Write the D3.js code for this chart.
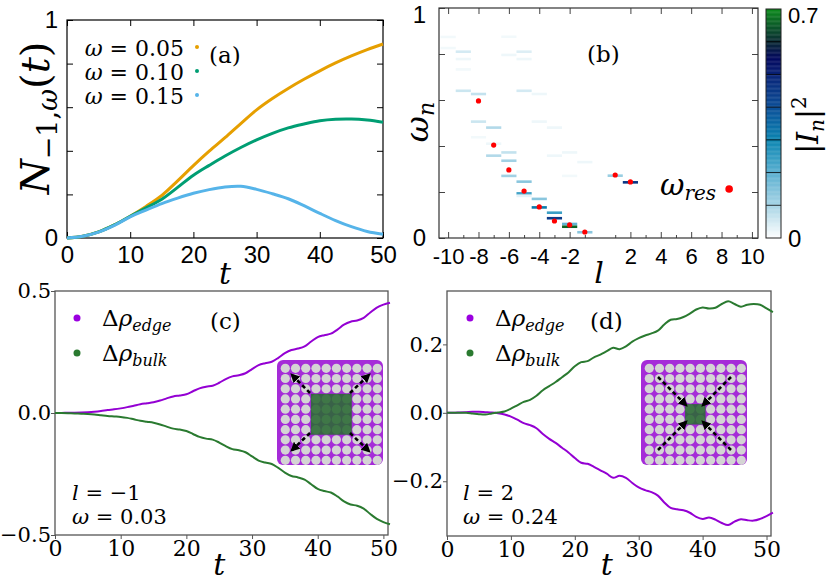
<!DOCTYPE html>
<html>
<head>
<meta charset="utf-8">
<script src="https://cdn.jsdelivr.net/npm/d3@7"></script>
<style>
body{margin:0;background:#fff}
.sf{font-family:"DejaVu Serif",serif}
.ss{font-family:"Liberation Sans",Arial,sans-serif}
</style>
</head>
<body>
<script>
// ---------- data ----------
// panel (a)
var tA = [0,2.5,5,7.5,10,12.5,15,17.5,20,22.5,25,27.5,30,32.5,35,37.5,40,42.5,45,47.5,50];
var nW005 = [0,0.008,0.028,0.06,0.10,0.145,0.195,0.262,0.332,0.398,0.46,0.525,0.588,0.64,0.686,0.728,0.767,0.803,0.835,0.864,0.89];
var nW010 = [0,0.008,0.028,0.06,0.10,0.138,0.178,0.232,0.288,0.333,0.376,0.415,0.45,0.48,0.505,0.523,0.538,0.545,0.546,0.541,0.531];
var nW015 = [0,0.008,0.027,0.058,0.097,0.128,0.158,0.183,0.205,0.222,0.234,0.237,0.223,0.203,0.18,0.148,0.113,0.08,0.052,0.03,0.017];
var legendA = ["0.05","0.10","0.15"];
var colorsA = ["#E69F00","#009E73","#56B4E9"];
var tTicks = [0,10,20,30,40,50];

// panel (b): horizontal bands (l, omega_n, |I_n|^2)
var bandL = [-10,-10,-9,-9,-9,-9,-8,-8,-8,-7,-7,-7,-6,-6,-6,-6,-6,-5,-5,-5,-5,-5,-5,-4,-4,-4,-4,-3,-3,-3,-3,-2,-2,-2,-2,-1,-1,1,2];
var bandW = [0.874,0.826,0.81,0.778,0.733,0.64,0.626,0.506,0.438,0.48,0.41,0.358,0.875,0.796,0.372,0.336,0.27,0.81,0.778,0.64,0.245,0.194,0.183,0.626,0.506,0.17,0.133,0.48,0.358,0.11,0.086,0.372,0.27,0.061,0.049,0.33,0.025,0.271,0.242];
var bandI = [0.015,0.015,0.05,0.02,0.015,0.06,0.07,0.06,0.015,0.09,0.02,0.09,0.015,0.02,0.07,0.11,0.11,0.04,0.02,0.05,0.14,0.23,0.03,0.02,0.02,0.14,0.32,0.02,0.02,0.24,0.45,0.02,0.015,0.19,0.66,0.02,0.14,0.12,0.46];
var resL = [-8,-7,-6,-5,-4,-3,-2,-1,1,2];
var resW = [0.596,0.404,0.296,0.204,0.135,0.074,0.057,0.026,0.274,0.244];
var lTicks = [-10,-8,-6,-4,-2,2,4,6,8,10];
var cbStops = [0,0.1,0.2,0.3,0.4,0.5,0.55,0.6,0.7];
var cbColors = ["#ffffff","#a9d5e6","#5bb0d1","#0c86b2","#0b4f98","#0a2477","#03085e","#0b2a35","#0c8a1c"];

// panels (c) and (d)
var tCD = [0,1,2,3,4,5,6,7,8,9,10,11,12,13,14,15,16,17,18,19,20,21,22,23,24,25,26,27,28,29,30,31,32,33,34,35,36,37,38,39,40,41,42,43,44,45,46,47,48,49,50,51];
var edgeC = [0,0.0005,0.001,0.0015,0.002,0.003,0.005,0.008,0.012,0.015,0.019,0.024,0.030,0.036,0.040,0.044,0.051,0.060,0.068,0.072,0.077,0.089,0.101,0.108,0.112,0.124,0.139,0.150,0.155,0.163,0.180,0.196,0.204,0.210,0.226,0.245,0.258,0.264,0.273,0.293,0.311,0.319,0.325,0.342,0.362,0.374,0.379,0.390,0.412,0.432,0.444,0.452];
var bulkC = [0,-0.0005,-0.001,-0.002,-0.003,-0.004,-0.006,-0.009,-0.012,-0.014,-0.016,-0.020,-0.026,-0.032,-0.036,-0.040,-0.047,-0.056,-0.064,-0.068,-0.074,-0.086,-0.098,-0.105,-0.109,-0.121,-0.136,-0.148,-0.153,-0.161,-0.178,-0.195,-0.203,-0.209,-0.225,-0.244,-0.258,-0.264,-0.273,-0.292,-0.311,-0.320,-0.326,-0.342,-0.362,-0.375,-0.380,-0.392,-0.414,-0.434,-0.447,-0.456];
var edgeD = [0,0,0.001,0.002,0.003,0.003,0.002,0.001,-0.001,-0.005,-0.011,-0.020,-0.030,-0.036,-0.045,-0.062,-0.076,-0.088,-0.102,-0.116,-0.132,-0.146,-0.149,-0.158,-0.168,-0.178,-0.190,-0.184,-0.190,-0.205,-0.218,-0.226,-0.232,-0.242,-0.262,-0.278,-0.282,-0.285,-0.292,-0.304,-0.310,-0.306,-0.312,-0.322,-0.328,-0.318,-0.311,-0.314,-0.315,-0.310,-0.302,-0.292];
var bulkD = [0,0,0,0,-0.002,-0.004,-0.005,-0.002,0.001,0.004,0.012,0.022,0.032,0.038,0.050,0.066,0.078,0.090,0.104,0.118,0.136,0.148,0.151,0.162,0.170,0.180,0.190,0.186,0.194,0.208,0.218,0.226,0.232,0.240,0.258,0.272,0.274,0.280,0.290,0.302,0.308,0.305,0.307,0.318,0.326,0.318,0.310,0.316,0.318,0.316,0.305,0.294];
var yTicksC = [-0.5,0,0.5];
var yTicksD = [-0.2,0,0.2];

// ---------- setup ----------
var svg = d3.select("body").append("svg").attr("width",830).attr("height",582);

function styleAxis(g, cls, size, col){
  g.attr("font-family", null).attr("class", cls).attr("font-size", size);
  g.selectAll("text").attr("fill","#000");
  g.selectAll("line").attr("stroke", col);
  g.select(".domain").remove();
}

// ---------- panel (a) ----------
var xA = d3.scaleLinear().domain([0,50]).range([67,383]);
var yA = d3.scaleLinear().domain([0,1]).range([238,20]);
var gA = svg.append("g");
gA.append("g").attr("transform","translate(0,238)")
  .call(d3.axisBottom(xA).tickValues(tTicks).tickSize(-6).tickPadding(8))
  .call(styleAxis, "ss", 24, "#000");
gA.append("g").attr("transform","translate(0,20)")
  .call(d3.axisTop(xA).tickValues(tTicks).tickSize(-6).tickFormat(""))
  .call(styleAxis, "ss", 24, "#000");
gA.append("g").attr("transform","translate(67,0)")
  .call(d3.axisLeft(yA).tickValues([0,0.2,0.4,0.6,0.8,1]).tickSize(-6).tickPadding(9)
    .tickFormat(function(d){ return (d===0||d===1) ? d : ""; }))
  .call(styleAxis, "ss", 24, "#000");
gA.append("g").attr("transform","translate(383,0)")
  .call(d3.axisRight(yA).tickValues([0,0.2,0.4,0.6,0.8,1]).tickSize(-6).tickFormat(""))
  .call(styleAxis, "ss", 24, "#000");
gA.append("rect").attr("x",67).attr("y",20).attr("width",316).attr("height",218)
  .attr("fill","none").attr("stroke","#000").attr("stroke-width",1.2);

var lineA = d3.line().x(function(d){return xA(d[0]);}).y(function(d){return yA(d[1]);}).curve(d3.curveCatmullRom);
[nW005,nW010,nW015].forEach(function(s,i){
  gA.append("path").datum(tA.map(function(t,j){return [t,s[j]];}))
    .attr("d", lineA).attr("fill","none").attr("stroke",colorsA[i]).attr("stroke-width",3);
});
legendA.forEach(function(s,i){
  var yb = 56 + i*24;
  var t = gA.append("text").attr("class","sf").attr("x",184).attr("y",yb).attr("text-anchor","end")
    .attr("font-size",22);
  t.append("tspan").attr("font-style","italic").text("\u03c9");
  t.append("tspan").text(" = " + s);
  gA.append("circle").attr("cx",197).attr("cy",yb-9).attr("r",2).attr("fill",colorsA[i]);
});
gA.append("text").attr("class","sf").attr("x",209).attr("y",63).attr("font-size",23).text("(a)");
var ylA = gA.append("text").attr("class","sf").attr("transform","translate(49,118) rotate(-90)").attr("text-anchor","middle")
  .attr("font-size",40);
ylA.append("tspan").attr("font-style","italic").text("N");
ylA.append("tspan").attr("font-size",27).attr("dy",8).text("\u22121,");
ylA.append("tspan").attr("font-size",27).attr("font-style","italic").text("\u03c9");
ylA.append("tspan").attr("dy",-8).text("(");
ylA.append("tspan").attr("font-style","italic").text("t");
ylA.append("tspan").text(")");
gA.append("text").attr("class","sf").attr("x",xA(25)).attr("y",284).attr("text-anchor","middle")
  .attr("font-style","italic").attr("font-size",30).text("t");

// ---------- panel (b) ----------
var xB = d3.scaleLinear().domain([-10.6,10.4]).range([439,758]);
var yB = d3.scaleLinear().domain([0,1]).range([238,8]);
var cScale = d3.scaleLinear().domain(cbStops).range(cbColors).interpolate(d3.interpolateRgb).clamp(true);
var gB = svg.append("g");
gB.selectAll("rect.band").data(bandL).enter().append("rect").attr("class","band")
  .attr("x",function(d){return xB(d-0.5);})
  .attr("width",function(d){return xB(d+0.5)-xB(d-0.5);})
  .attr("y",function(d,i){return yB(bandW[i])-1.3;})
  .attr("height",2.6)
  .attr("fill",function(d,i){return cScale(bandI[i]);});
gB.selectAll("circle.res").data(resL).enter().append("circle").attr("class","res")
  .attr("cx",function(d){return xB(d);}).attr("cy",function(d,i){return yB(resW[i]);})
  .attr("r",2.6).attr("fill","#ff0000");
var minorL = d3.range(-9,10,2);
gB.append("g").attr("transform","translate(0,238)")
  .call(d3.axisBottom(xB).tickValues(minorL).tickSize(-3).tickFormat(""))
  .call(styleAxis, "ss", 22, "#444");
gB.append("g").attr("transform","translate(0,238)")
  .call(d3.axisBottom(xB).tickValues(lTicks).tickSize(-6).tickPadding(10).tickFormat(function(d){return d<0? "-"+(-d) : d;}))
  .call(styleAxis, "ss", 22, "#444");
gB.append("g").attr("transform","translate(0,8)")
  .call(d3.axisTop(xB).tickValues(lTicks).tickSize(-6).tickFormat(""))
  .call(styleAxis, "ss", 22, "#444");
gB.append("g").attr("transform","translate(439,0)")
  .call(d3.axisLeft(yB).tickValues([0,0.2,0.4,0.6,0.8,1]).tickSize(-6).tickPadding(13)
    .tickFormat(function(d){ return (d===0||d===1) ? d : ""; }))
  .call(styleAxis, "ss", 24, "#444");
gB.selectAll("text").filter(function(){ return this.textContent==="1"; }).attr("dy","0.62em");
gB.append("g").attr("transform","translate(758,0)")
  .call(d3.axisRight(yB).tickValues([0,0.2,0.4,0.6,0.8,1]).tickSize(-6).tickFormat(""))
  .call(styleAxis, "ss", 24, "#444");
gB.append("rect").attr("x",439).attr("y",8).attr("width",319).attr("height",230)
  .attr("fill","none").attr("stroke","#333").attr("stroke-width",1.2);
gB.append("text").attr("class","sf").attr("x",587).attr("y",62).attr("font-size",23).text("(b)");
gB.append("circle").attr("cx",xB(8.5)).attr("cy",yB(0.213)).attr("r",3.8).attr("fill","#ff0000");
var wr = gB.append("text").attr("class","sf").attr("x",660).attr("y",195).attr("font-style","italic").attr("font-size",30);
wr.append("tspan").text("\u03c9");
wr.append("tspan").attr("font-size",20).attr("dy",5).text("res");
var ylB = gB.append("text").attr("class","sf").attr("transform","translate(428,122) rotate(-90)").attr("text-anchor","middle")
  .attr("font-style","italic").attr("font-size",32);
ylB.append("tspan").text("\u03c9");
ylB.append("tspan").attr("font-size",22).attr("dy",6).text("n");
gB.append("text").attr("class","sf").attr("x",599).attr("y",283).attr("text-anchor","middle")
  .attr("font-style","italic").attr("font-size",30).text("l");

// colorbar
var yCB = d3.scaleLinear().domain([0,0.7]).range([238,9]);
var cbVals = d3.range(0,0.7,0.0025);
gB.selectAll("rect.cb").data(cbVals).enter().append("rect").attr("class","cb")
  .attr("x",766).attr("width",15)
  .attr("y",function(d){return yCB(d+0.0025);})
  .attr("height",function(d){return yCB(d)-yCB(d+0.0025)+0.4;})
  .attr("fill",function(d){return cScale(d+0.00125);});
gB.selectAll("line.cbl").data([0.1,0.2,0.3,0.4,0.5,0.6]).enter().append("line").attr("class","cbl")
  .attr("x1",766).attr("x2",781).attr("y1",function(d){return yCB(d);}).attr("y2",function(d){return yCB(d);})
  .attr("stroke","#000").attr("stroke-width",0.8);
gB.append("rect").attr("x",766).attr("y",9).attr("width",15).attr("height",229)
  .attr("fill","none").attr("stroke","#222").attr("stroke-width",1);
gB.append("text").attr("class","ss").attr("x",788).attr("y",23).attr("font-size",22).text("0.7");
gB.append("text").attr("class","ss").attr("x",788).attr("y",yCB(0)).attr("dy","0.36em").attr("font-size",24).text("0");
var cbl = gB.append("text").attr("class","sf").attr("transform","translate(818,125) rotate(-90)").attr("text-anchor","middle")
  .attr("font-size",30);
cbl.append("tspan").text("|");
cbl.append("tspan").attr("font-style","italic").text("I");
cbl.append("tspan").attr("font-style","italic").attr("font-size",20).attr("dy",6).text("n");
cbl.append("tspan").attr("dy",-6).text("|");
cbl.append("tspan").attr("font-size",20).attr("dy",-12).text("2");

// ---------- panels (c), (d) ----------
function drawPanel(opt){
  var g = svg.append("g");
  var x = d3.scaleLinear().domain([0,50.7]).range([opt.x0,opt.x1]);
  var y = d3.scaleLinear().domain(opt.ydom).range([opt.yb,291]);
  g.append("g").attr("transform","translate(0,"+opt.yb+")")
    .call(d3.axisBottom(x).tickValues(tTicks).tickSize(4).tickPadding(1))
    .call(styleAxis, "sf", 22, "#555");
  g.append("g").attr("transform","translate("+opt.x0+",0)")
    .call(d3.axisLeft(y).tickValues(opt.yticks).tickSize(4).tickPadding(0)
      .tickFormat(function(d){ return d<0 ? "\u2212"+d3.format(".1f")(-d) : d3.format(".1f")(d); }))
    .call(styleAxis, "sf", 21, "#555");
  g.append("rect").attr("x",opt.x0).attr("y",291).attr("width",opt.x1-opt.x0).attr("height",opt.yb-291)
    .attr("fill","none").attr("stroke","#555").attr("stroke-width",1.3);

  // inset lattice
  var ix = opt.inset[0], iy = opt.inset[1];
  var cell = d3.scaleLinear().domain([0,9]).range([8.3,100.3]);
  var ins = g.append("g").attr("transform","translate("+ix+","+iy+")");
  ins.append("rect").attr("width",106).attr("height",105).attr("rx",6).attr("fill","#a52cd8");
  var idx = d3.range(10);
  idx.forEach(function(r){
    ins.selectAll(null).data(idx).enter().append("circle")
      .attr("cx",function(c){return cell(c);}).attr("cy",cell(r)).attr("r",4.6).attr("fill","#d4d4d4");
  });
  var a = opt.green[0], b = opt.green[1];
  ins.append("rect").attr("x",cell(a)-5.1).attr("y",cell(a)-5.1)
    .attr("width",cell(b)-cell(a)+10.2).attr("height",cell(b)-cell(a)+10.2)
    .attr("fill","#2a6a33").attr("opacity",0.88);
  opt.arrows.forEach(function(ar){
    ins.append("line").attr("x1",ar[0]).attr("y1",ar[1]).attr("x2",ar[2]).attr("y2",ar[3])
      .attr("stroke","#000").attr("stroke-width",2.6).attr("stroke-dasharray","4,3")
      .attr("marker-end","url(#arrow)");
  });

  var lineF = d3.line().x(function(d){return x(d[0]);}).y(function(d){return y(d[1]);}).curve(d3.curveCatmullRom);
  g.append("path").datum(tCD.map(function(t,j){return [t,opt.edge[j]];}))
    .attr("d",lineF).attr("fill","none").attr("stroke","#9400d3").attr("stroke-width",2);
  g.append("path").datum(tCD.map(function(t,j){return [t,opt.bulk[j]];}))
    .attr("d",lineF).attr("fill","none").attr("stroke","#2a7a30").attr("stroke-width",2);

  // legend
  [["edge","#9b00e0",318],["bulk","#2a7a30",353]].forEach(function(e){
    g.append("circle").attr("cx",opt.lx).attr("cy",e[2]).attr("r",3.5).attr("fill",e[1]);
    var t = g.append("text").attr("class","sf").attr("x",opt.lx+25).attr("y",e[2]+8).attr("font-size",23);
    t.append("tspan").text("\u0394");
    t.append("tspan").attr("font-style","italic").text("\u03c1");
    t.append("tspan").attr("font-style","italic").attr("font-size",16).attr("dy",5).text(e[0]);
  });
  g.append("text").attr("class","sf").attr("x",opt.labx).attr("y",329).attr("font-size",23).text(opt.label);
  var p1 = g.append("text").attr("class","sf").attr("x",opt.px).attr("y",500).attr("font-size",21);
  p1.append("tspan").attr("font-style","italic").text("l");
  p1.append("tspan").text(" = " + opt.lval);
  var p2 = g.append("text").attr("class","sf").attr("x",opt.px).attr("y",524).attr("font-size",21);
  p2.append("tspan").attr("font-style","italic").text("\u03c9");
  p2.append("tspan").text(" = " + opt.wval);
  g.append("text").attr("class","sf").attr("x",x(25)).attr("y",575).attr("text-anchor","middle")
    .attr("font-style","italic").attr("font-size",30).text("t");
}

svg.append("defs").append("marker").attr("id","arrow").attr("viewBox","0 0 10 10")
  .attr("refX",9).attr("refY",5).attr("markerWidth",3.6).attr("markerHeight",3.6)
  .attr("markerUnits","strokeWidth").attr("orient","auto")
  .append("path").attr("d","M0,0 L10,5 L0,10 z").attr("fill","#000");

drawPanel({x0:55,x1:388,yb:535,ydom:[-0.5,0.5],yticks:yTicksC,edge:edgeC,bulk:bulkC,
  inset:[277,360],green:[3,6],
  arrows:[[33,33,14,14],[73,33,93,14],[33,73,14,91],[73,73,93,92]],
  lx:77,labx:210,label:"(c)",px:72,lval:"\u22121",wval:"0.03"});
drawPanel({x0:447,x1:771,yb:536,ydom:[-0.36,0.356],yticks:yTicksD,edge:edgeD,bulk:bulkD,
  inset:[641,360],green:[4,5],
  arrows:[[17,17,46,46],[90,17,61,46],[17,90,46,61],[90,90,61,61]],
  lx:470,labx:590,label:"(d)",px:463,lval:"2",wval:"0.24"});
</script>
</body>
</html>
